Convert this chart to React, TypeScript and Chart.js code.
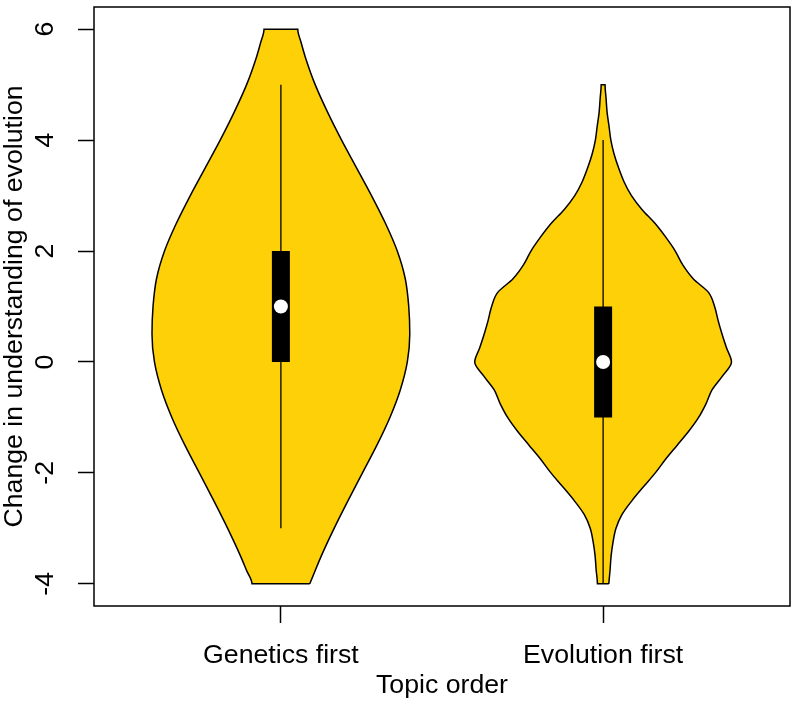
import React, { useEffect, useRef } from "react";
import { Chart, registerables } from "chart.js";

Chart.register(...registerables);

// ---- data ----
const categories = ["Genetics first", "Evolution first"];
const positions = [1, 2];
const yTickValues = [-4, -2, 0, 2, 4, 6];

// relative kernel density (1 = widest)
const geneticsLevels = [-4, -3.75, -3.5, -3, -2.5, -2, -1.5, -1, -0.5, 0, 0.5, 1, 1.5, 2, 2.5, 3, 3.5, 4, 4.5, 5, 5.5, 5.75, 6];
const geneticsDensity = [0.224, 0.268, 0.313, 0.413, 0.521, 0.633, 0.745, 0.846, 0.927, 0.981, 1.0, 0.992, 0.965, 0.903, 0.811, 0.703, 0.587, 0.471, 0.363, 0.266, 0.189, 0.158, 0.131];

const evolutionLevels = [-4, -3.75, -3.5, -3.25, -3, -2.75, -2.5, -2.25, -2, -1.75, -1.5, -1.25, -1, -0.75, -0.5, -0.25, 0, 0.25, 0.5, 0.75, 1, 1.25, 1.5, 1.75, 2, 2.25, 2.5, 2.75, 3, 3.25, 3.5, 3.75, 4, 4.25, 4.5, 4.75, 5];
const evolutionDensity = [0.044, 0.054, 0.062, 0.077, 0.1, 0.147, 0.224, 0.313, 0.405, 0.486, 0.575, 0.664, 0.741, 0.799, 0.846, 0.927, 0.996, 0.958, 0.923, 0.892, 0.865, 0.819, 0.699, 0.618, 0.56, 0.486, 0.402, 0.301, 0.22, 0.162, 0.12, 0.085, 0.06, 0.046, 0.031, 0.023, 0.015];

const whiskerLow = [-3, -4];
const quartile1 = [0, -1];
const medians = [1, 0];
const quartile3 = [2, 1];
const whiskerHigh = [5, 4];

// ---- styling ----
const MAX_HALF_WIDTH = 0.4;
const FILL = "#FED008";
const FONT = "'Liberation Sans', Arial, Helvetica, sans-serif";
const FONT_SIZE = 26.7;

function outline(pos: number, levels: number[], density: number[]) {
  const right = levels.map((y, i) => ({ x: pos + density[i] * MAX_HALF_WIDTH, y }));
  const left = levels.map((y, i) => ({ x: pos - density[i] * MAX_HALF_WIDTH, y })).reverse();
  return [...right, ...left, right[0]];
}

const framePlugin = {
  id: "frame",
  afterDraw(chart: any) {
    const { ctx, chartArea: a } = chart;
    ctx.save();
    ctx.strokeStyle = "#000";
    ctx.lineWidth = 1.5;
    ctx.strokeRect(a.left, a.top, a.right - a.left, a.bottom - a.top);
    ctx.restore();
  },
};

export default function App() {
  const ref = useRef<HTMLCanvasElement | null>(null);

  useEffect(() => {
    if (!ref.current) return;
    const shapes = [
      outline(positions[0], geneticsLevels, geneticsDensity),
      outline(positions[1], evolutionLevels, evolutionDensity),
    ];
    const datasets: any[] = [];
    positions.forEach((pos, i) => {
      datasets.push({
        data: shapes[i],
        showLine: true,
        fill: "shape",
        backgroundColor: FILL,
        borderColor: "#000",
        borderWidth: 1.5,
        pointRadius: 0,
        indexAxis: "y",
        cubicInterpolationMode: "monotone",
        order: 3,
      });
      datasets.push({
        data: [
          { x: pos, y: whiskerLow[i] },
          { x: pos, y: whiskerHigh[i] },
        ],
        showLine: true,
        fill: false,
        borderColor: "#000",
        borderWidth: 1.3,
        pointRadius: 0,
        order: 2,
      });
      datasets.push({
        data: [
          { x: pos, y: quartile1[i] },
          { x: pos, y: quartile3[i] },
        ],
        showLine: true,
        fill: false,
        borderColor: "#000",
        borderWidth: 18,
        borderCapStyle: "butt",
        pointRadius: 0,
        order: 1,
      });
      datasets.push({
        data: [{ x: pos, y: medians[i] }],
        showLine: false,
        pointRadius: 7,
        pointBackgroundColor: "#fff",
        pointBorderWidth: 0,
        order: 0,
      });
    });

    const chart = new Chart(ref.current, {
      type: "scatter",
      data: { datasets },
      plugins: [framePlugin],
      options: {
        responsive: false,
        animation: false,
        devicePixelRatio: 1,
        layout: { padding: { top: 4, right: 4, left: 0, bottom: 0 } },
        plugins: { legend: { display: false }, tooltip: { enabled: false } },
        scales: {
          x: {
            type: "linear",
            min: 0.42,
            max: 2.58,
            afterBuildTicks: (s: any) => {
              s.ticks = positions.map((v) => ({ value: v }));
            },
            afterFit: (s: any) => {
              s.height = 99;
              s.paddingLeft = 0;
              s.paddingRight = 0;
            },
            border: { display: false },
            grid: {
              display: true,
              drawOnChartArea: false,
              drawTicks: true,
              tickLength: 17,
              tickWidth: 1.5,
              tickColor: "#000",
            },
            ticks: {
              padding: 16.4,
              color: "#000",
              maxRotation: 0,
              minRotation: 0,
              autoSkip: false,
              font: { family: FONT, size: FONT_SIZE },
              callback: (v: any) => categories[positions.indexOf(Number(v))] ?? "",
            },
            title: {
              display: true,
              text: "Topic order",
              color: "#000",
              padding: { top: 0, bottom: 3 },
              font: { family: FONT, size: FONT_SIZE },
            },
          },
          y: {
            type: "linear",
            min: -4.4,
            max: 6.4,
            afterBuildTicks: (s: any) => {
              s.ticks = yTickValues.map((v) => ({ value: v }));
            },
            afterFit: (s: any) => {
              s.width = 94;
              s.paddingTop = 0;
              s.paddingBottom = 0;
            },
            border: { display: false },
            grid: {
              display: true,
              drawOnChartArea: false,
              drawTicks: true,
              tickLength: 16,
              tickWidth: 1.5,
              tickColor: "#000",
            },
            ticks: {
              padding: 20.4,
              color: "#000",
              minRotation: 90,
              maxRotation: 90,
              crossAlign: "center",
              autoSkip: false,
              font: { family: FONT, size: FONT_SIZE },
              callback: (v: any) => String(v),
            },
            title: {
              display: true,
              text: "Change in understanding of evolution",
              color: "#000",
              padding: { top: 0, bottom: 0 },
              font: { family: FONT, size: FONT_SIZE, lineHeight: 1.08 },
            },
          },
        },
      } as any,
    });
    return () => chart.destroy();
  }, []);

  return (
    <div style={{ position: "fixed", left: 0, top: 0, width: 797, height: 705, background: "#fff" }}>
      <canvas ref={ref} width={797} height={705} style={{ width: 797, height: 705, display: "block" }} />
    </div>
  );
}
